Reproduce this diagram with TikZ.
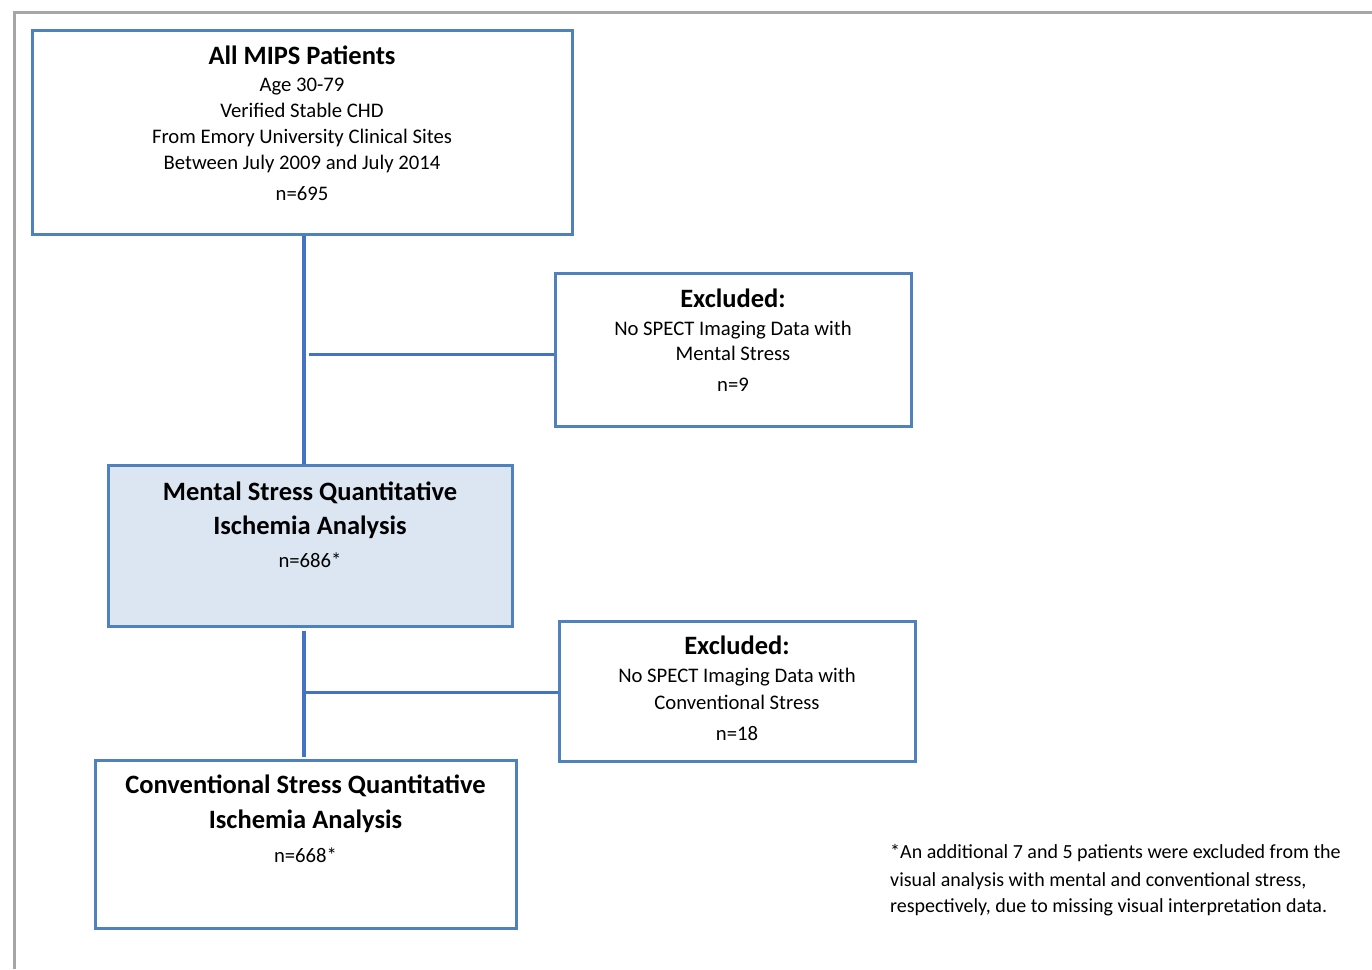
\documentclass[tikz,border=0pt]{standalone}
\usepackage{fontspec}
\setmainfont{Carlito}
\definecolor{boxblue}{HTML}{4F81BD}
\definecolor{linkblue}{HTML}{4472C4}
\definecolor{fillblue}{HTML}{DCE6F2}
\definecolor{framegray}{HTML}{A6A6A6}
\begin{document}
\begin{tikzpicture}[x=1pt,y=-1pt,
  box/.style={draw=boxblue, line width=3pt, rectangle, inner sep=0pt},
  conn/.style={draw=linkblue, line width=3.5pt},
  ttl/.style={anchor=base, font=\fontsize{26.5}{30}\selectfont\bfseries, inner sep=0pt, yshift=-1pt},
  txt/.style={anchor=base, font=\fontsize{20.7}{25}\selectfont, inner sep=0pt, yshift=-1pt},
  foot/.style={anchor=base west, font=\fontsize{20}{25}\selectfont, inner sep=0pt, yshift=-1pt}]
\useasboundingbox (0,0) rectangle (1372,969);
% frame
\draw[framegray, line width=3pt] (14,969) -- (14,12.5) -- (1372,12.5);
% boxes
\node[box, minimum width=540pt, minimum height=204pt] (all) at (302,132) {};
\node[box, minimum width=356pt, minimum height=153pt] (ex1) at (733,349.5) {};
\node[box, fill=fillblue, minimum width=404pt, minimum height=161pt] (ms) at (310,545.5) {};
\node[box, minimum width=356pt, minimum height=140pt] (ex2) at (737,691) {};
\node[box, minimum width=421pt, minimum height=168pt] (cs) at (305.5,844) {};
% connectors
\coordinate (t1) at (304,0);
\draw[conn] (all.south -| t1) -- (ms.north -| t1);
\coordinate (h1) at (309,354.3);
\draw[conn] (h1) -- (h1 -| ex1.west);
\coordinate (t2) at (304,631);
\draw[conn] (t2) -- ([yshift=2pt]cs.north -| t2);
\coordinate (h2) at (304,692.5);
\draw[conn] (h2) -- (h2 -| ex2.west);
% texts box 1
\node[ttl] (all1) at (302,63.3) {All MIPS Patients};
\node[txt] (all2) at (302,90.5) {Age 30-79};
\node[txt] (all3) at (302,116.5) {Verified Stable CHD};
\node[txt] (all4) at (302,142.5) {From Emory University Clinical Sites};
\node[txt] (all5) at (302,168.5) {Between July 2009 and July 2014};
\node[txt] (all6) at (302,199.3) {n=695};
% excluded 1
\node[ttl] (e11) at (733,306.5) {Excluded:};
\node[txt] (e12) at (733,334) {No SPECT Imaging Data with};
\node[txt] (e13) at (733,359.5) {Mental Stress};
\node[txt] (e14) at (733,390.5) {n=9};
% mental stress
\node[ttl] (ms1) at (310,499.5) {Mental Stress Quantitative};
\node[ttl] (ms2) at (310,533.5) {Ischemia Analysis};
\node[txt] (ms3) at (310,566) {n=686*};
% excluded 2
\node[ttl] (e21) at (737,653.5) {Excluded:};
\node[txt] (e22) at (737,681.5) {No SPECT Imaging Data with};
\node[txt] (e23) at (737,708) {Conventional Stress};
\node[txt] (e24) at (737,739) {n=18};
% conventional stress
\node[ttl] (cs1) at (305.5,792.7) {Conventional Stress Quantitative};
\node[ttl] (cs2) at (305.5,827.7) {Ischemia Analysis};
\node[txt] (cs3) at (305.5,861.7) {n=668*};
% footnote
\node[foot] (f1) at (890,857.5) {*An additional 7 and 5 patients were excluded from the};
\node[foot] (f2) at (890,885) {visual analysis with mental and conventional stress,};
\node[foot] (f3) at (890,911.7) {respectively, due to missing visual interpretation data.};
\end{tikzpicture}
\end{document}
